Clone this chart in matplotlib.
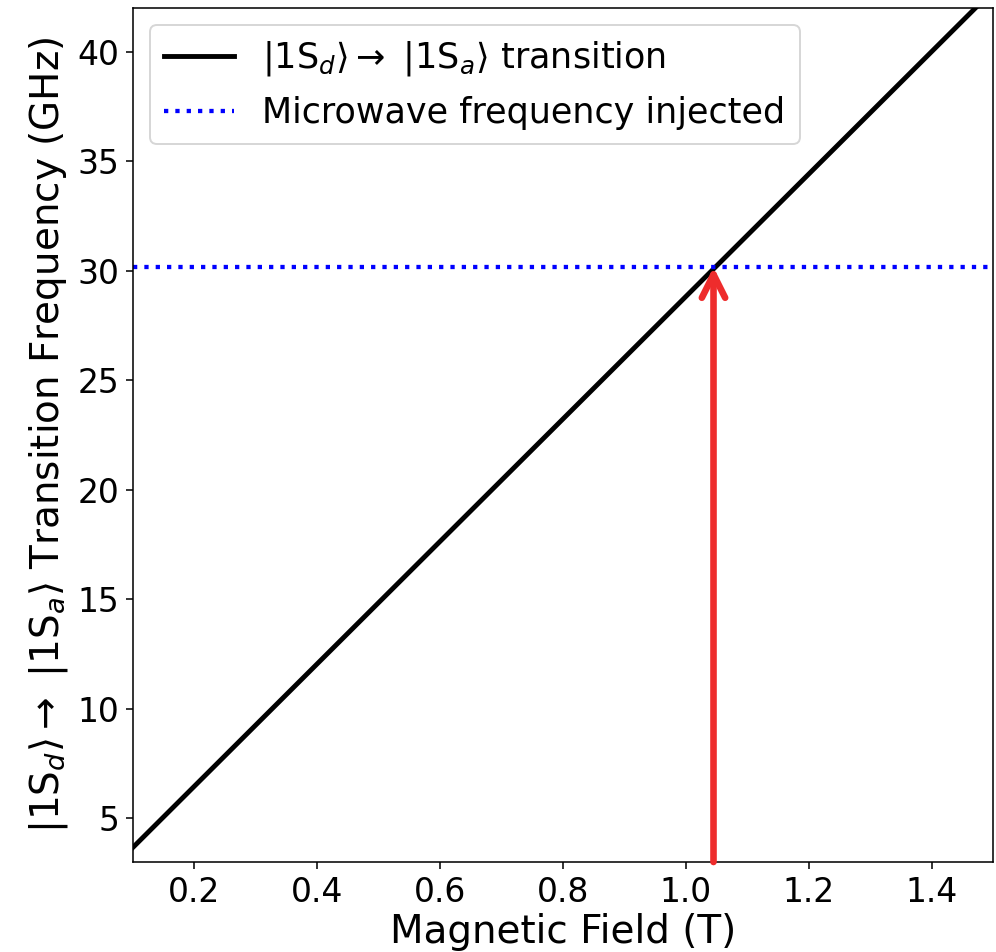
import numpy as np
import matplotlib
matplotlib.use("Agg")
import matplotlib.pyplot as plt

# transition line endpoints
field = np.array([0.1, 1.5])
freq = np.array([3.67, 42.8])

mw_freq = 30.17
resonance_field = 1.045

plt.rcParams['font.size'] = 17

fig = plt.figure(figsize=(997 / 140, 952 / 140), dpi=140)
ax = fig.add_axes([0.1334, 0.0945, 0.8626, 0.8971])

ax.plot(field, freq, color='black', lw=2.5,
        label=r'$|1\mathrm{S}_d\rangle \rightarrow$ $|1\mathrm{S}_a\rangle$ transition')
ax.axhline(mw_freq, color='blue', ls=':', lw=2.2, label='Microwave frequency injected')
ax.annotate('', xy=(resonance_field, mw_freq), xytext=(resonance_field, 3.0),
            arrowprops=dict(arrowstyle='->', color='#EE2C2C', lw=3.4, mutation_scale=30,
                            shrinkA=0, shrinkB=0))

ax.set_xlim(0.1, 1.5)
ax.set_ylim(3, 42)
ax.tick_params(labelsize=17)
ax.set_xlabel('Magnetic Field (T)', fontsize=20, labelpad=2)
ax.set_ylabel(r'$|1\mathrm{S}_d\rangle \rightarrow$ $|1\mathrm{S}_a\rangle$ Transition Frequency (GHz)',
              fontsize=20)
ax.legend(loc='upper left', fontsize=18)

fig.savefig('out.png', dpi=140)
